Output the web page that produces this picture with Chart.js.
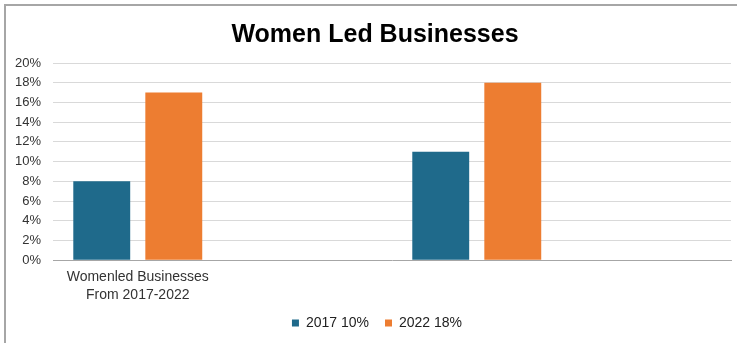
<!DOCTYPE html>
<html>
<head>
<meta charset="utf-8">
<script src="https://cdn.jsdelivr.net/npm/chart.js@4"></script>
<style>
  html, body { margin: 0; padding: 0; background: #fff; overflow: hidden; }
  #wrap { position: relative; width: 737px; height: 343px; }
  #frame { position: absolute; left: 4px; top: 4px; width: 760px; height: 360px;
           border-top: 2px solid #a6a6a6; border-left: 2px solid #a6a6a6; box-sizing: border-box; }
  canvas { position: absolute; left: 0; top: 0; }
</style>
</head>
<body>
<div id="wrap">
  <div id="frame"></div>
  <canvas id="chart" width="737" height="343"></canvas>
</div>
<script>
// categories (the 2nd and 4th columns are empty in the source sheet)
const categories = [['Womenled Businesses', 'From 2017-2022'], '', '', ''];
const series2017 = [8, null, 11, null];
const series2022 = [17, null, 18, null];
const seriesNames = ['2017 10%', '2022 18%'];
const yTicks = [0, 2, 4, 6, 8, 10, 12, 14, 16, 18, 20];

const LEGEND_GAP = 16;   // horizontal gap between legend items
const LEGEND_VPAD = 4;   // vertical padding we actually want
const EXTRA = LEGEND_GAP - LEGEND_VPAD;

// move legend rows back up and nudge title/legend right of centre
const tweaks = {
  id: 'tweaks',
  afterLayout(chart) {
    const lg = chart.legend;
    if (lg) {
      lg.top -= EXTRA;
      lg.bottom -= EXTRA;
      lg.left += 20;
    }
    if (chart.titleBlock) chart.titleBlock.left += 16;
  }
};

const ctx = document.getElementById('chart').getContext('2d');
new Chart(ctx, {
  type: 'bar',
  data: {
    labels: categories,
    datasets: [
      { label: seriesNames[0], data: series2017, backgroundColor: '#1f6a8b' },
      { label: seriesNames[1], data: series2022, backgroundColor: '#ed7d31' }
    ]
  },
  plugins: [tweaks],
  options: {
    responsive: false,
    animation: false,
    categoryPercentage: 0.85,
    barPercentage: 0.79,
    // negative bottom padding absorbs the legend's extra vertical padding
    layout: { padding: { left: 3, right: 6, top: 0, bottom: 3 - EXTRA } },
    plugins: {
      title: {
        display: true,
        text: 'Women Led Businesses',
        color: '#000',
        font: { family: 'Liberation Sans, Arial, sans-serif', size: 25, weight: 'bold' },
        padding: { top: 20, bottom: 13 }
      },
      legend: {
        position: 'bottom',
        labels: {
          color: '#222',
          boxWidth: 7,
          boxHeight: 7,
          padding: LEGEND_GAP,
          font: { family: 'Liberation Sans, Arial, sans-serif', size: 14 }
        }
      },
      tooltip: { enabled: false }
    },
    scales: {
      x: {
        grid: { display: false, drawTicks: false },
        border: { display: true, color: '#a6a6a6', width: 1 },
        ticks: {
          color: '#333',
          maxRotation: 0,
          autoSkip: false,
          padding: 8,
          font: { family: 'Liberation Sans, Arial, sans-serif', size: 14, lineHeight: 1.28 }
        }
      },
      y: {
        min: 0,
        max: 20,
        afterBuildTicks: axis => { axis.ticks = yTicks.map(v => ({ value: v })); },
        grid: {
          drawTicks: false,
          color: ctx => ctx.tick && ctx.tick.value === 0 ? 'rgba(0,0,0,0)' : '#d9d9d9'
        },
        border: { display: false },
        ticks: {
          color: '#333',
          padding: 12,
          font: { family: 'Liberation Sans, Arial, sans-serif', size: 13 },
          callback: v => v + '%'
        }
      }
    }
  }
});
</script>
</body>
</html>
